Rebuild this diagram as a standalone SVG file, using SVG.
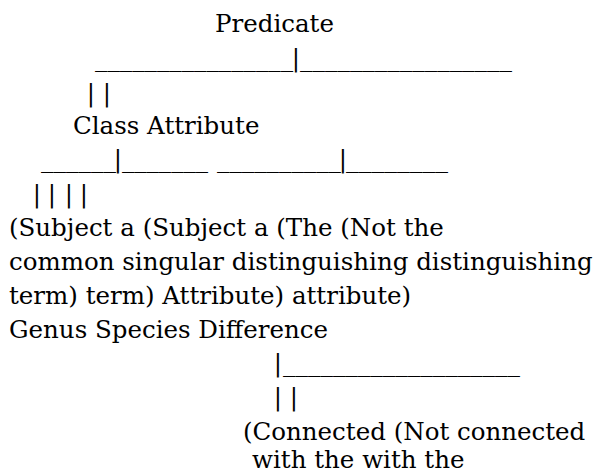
<svg xmlns="http://www.w3.org/2000/svg" width="597" height="474" viewBox="0 0 597 474">
<style>
text { font-family: "DejaVu Serif", serif; font-size: 24.5px; fill: #000; }
.bar { text-anchor: middle; }
</style>
<rect width="597" height="474" fill="#fff"/>
<g id="connectors">
<!-- top branch -->
<text x="95" y="66" textLength="198" lengthAdjust="spacingAndGlyphs">________________</text>
<text class="bar" x="296" y="66">|</text>
<text x="300" y="66" textLength="212" lengthAdjust="spacingAndGlyphs">_________________</text>
<text class="bar" x="91" y="100.5">|</text>
<text class="bar" x="107" y="100.5">|</text>
<!-- second-level branches -->
<text x="41" y="167" textLength="75" lengthAdjust="spacingAndGlyphs">______</text>
<text class="bar" x="118" y="167">|</text>
<text x="122" y="167" textLength="86" lengthAdjust="spacingAndGlyphs">_______</text>
<text x="217" y="167" textLength="124" lengthAdjust="spacingAndGlyphs">__________</text>
<text class="bar" x="343" y="167">|</text>
<text x="346" y="167" textLength="102" lengthAdjust="spacingAndGlyphs">________</text>
<text class="bar" x="37" y="202">|</text>
<text class="bar" x="52" y="202">|</text>
<text class="bar" x="69" y="202">|</text>
<text class="bar" x="84" y="202">|</text>
<!-- difference branch -->
<text class="bar" x="278" y="371">|</text>
<text x="283" y="371" textLength="237" lengthAdjust="spacingAndGlyphs">___________________</text>
<text class="bar" x="278" y="405">|</text>
<text class="bar" x="294" y="405">|</text>
</g>
<g id="predicate"><text x="215" y="32">Predicate</text></g>
<g id="class-attribute"><text x="73" y="134">Class Attribute</text></g>
<g id="descriptions">
<text x="9" y="236">(Subject a (Subject a (The (Not the</text>
<text x="9" y="270">common singular distinguishing distinguishing</text>
<text x="9" y="304">term) term) Attribute) attribute)</text>
</g>
<g id="genus-species-difference"><text x="9" y="338">Genus Species Difference</text></g>
<g id="connection">
<text x="243" y="440">(Connected (Not connected</text>
<text x="252" y="468">with the with the</text>
</g>
</svg>
